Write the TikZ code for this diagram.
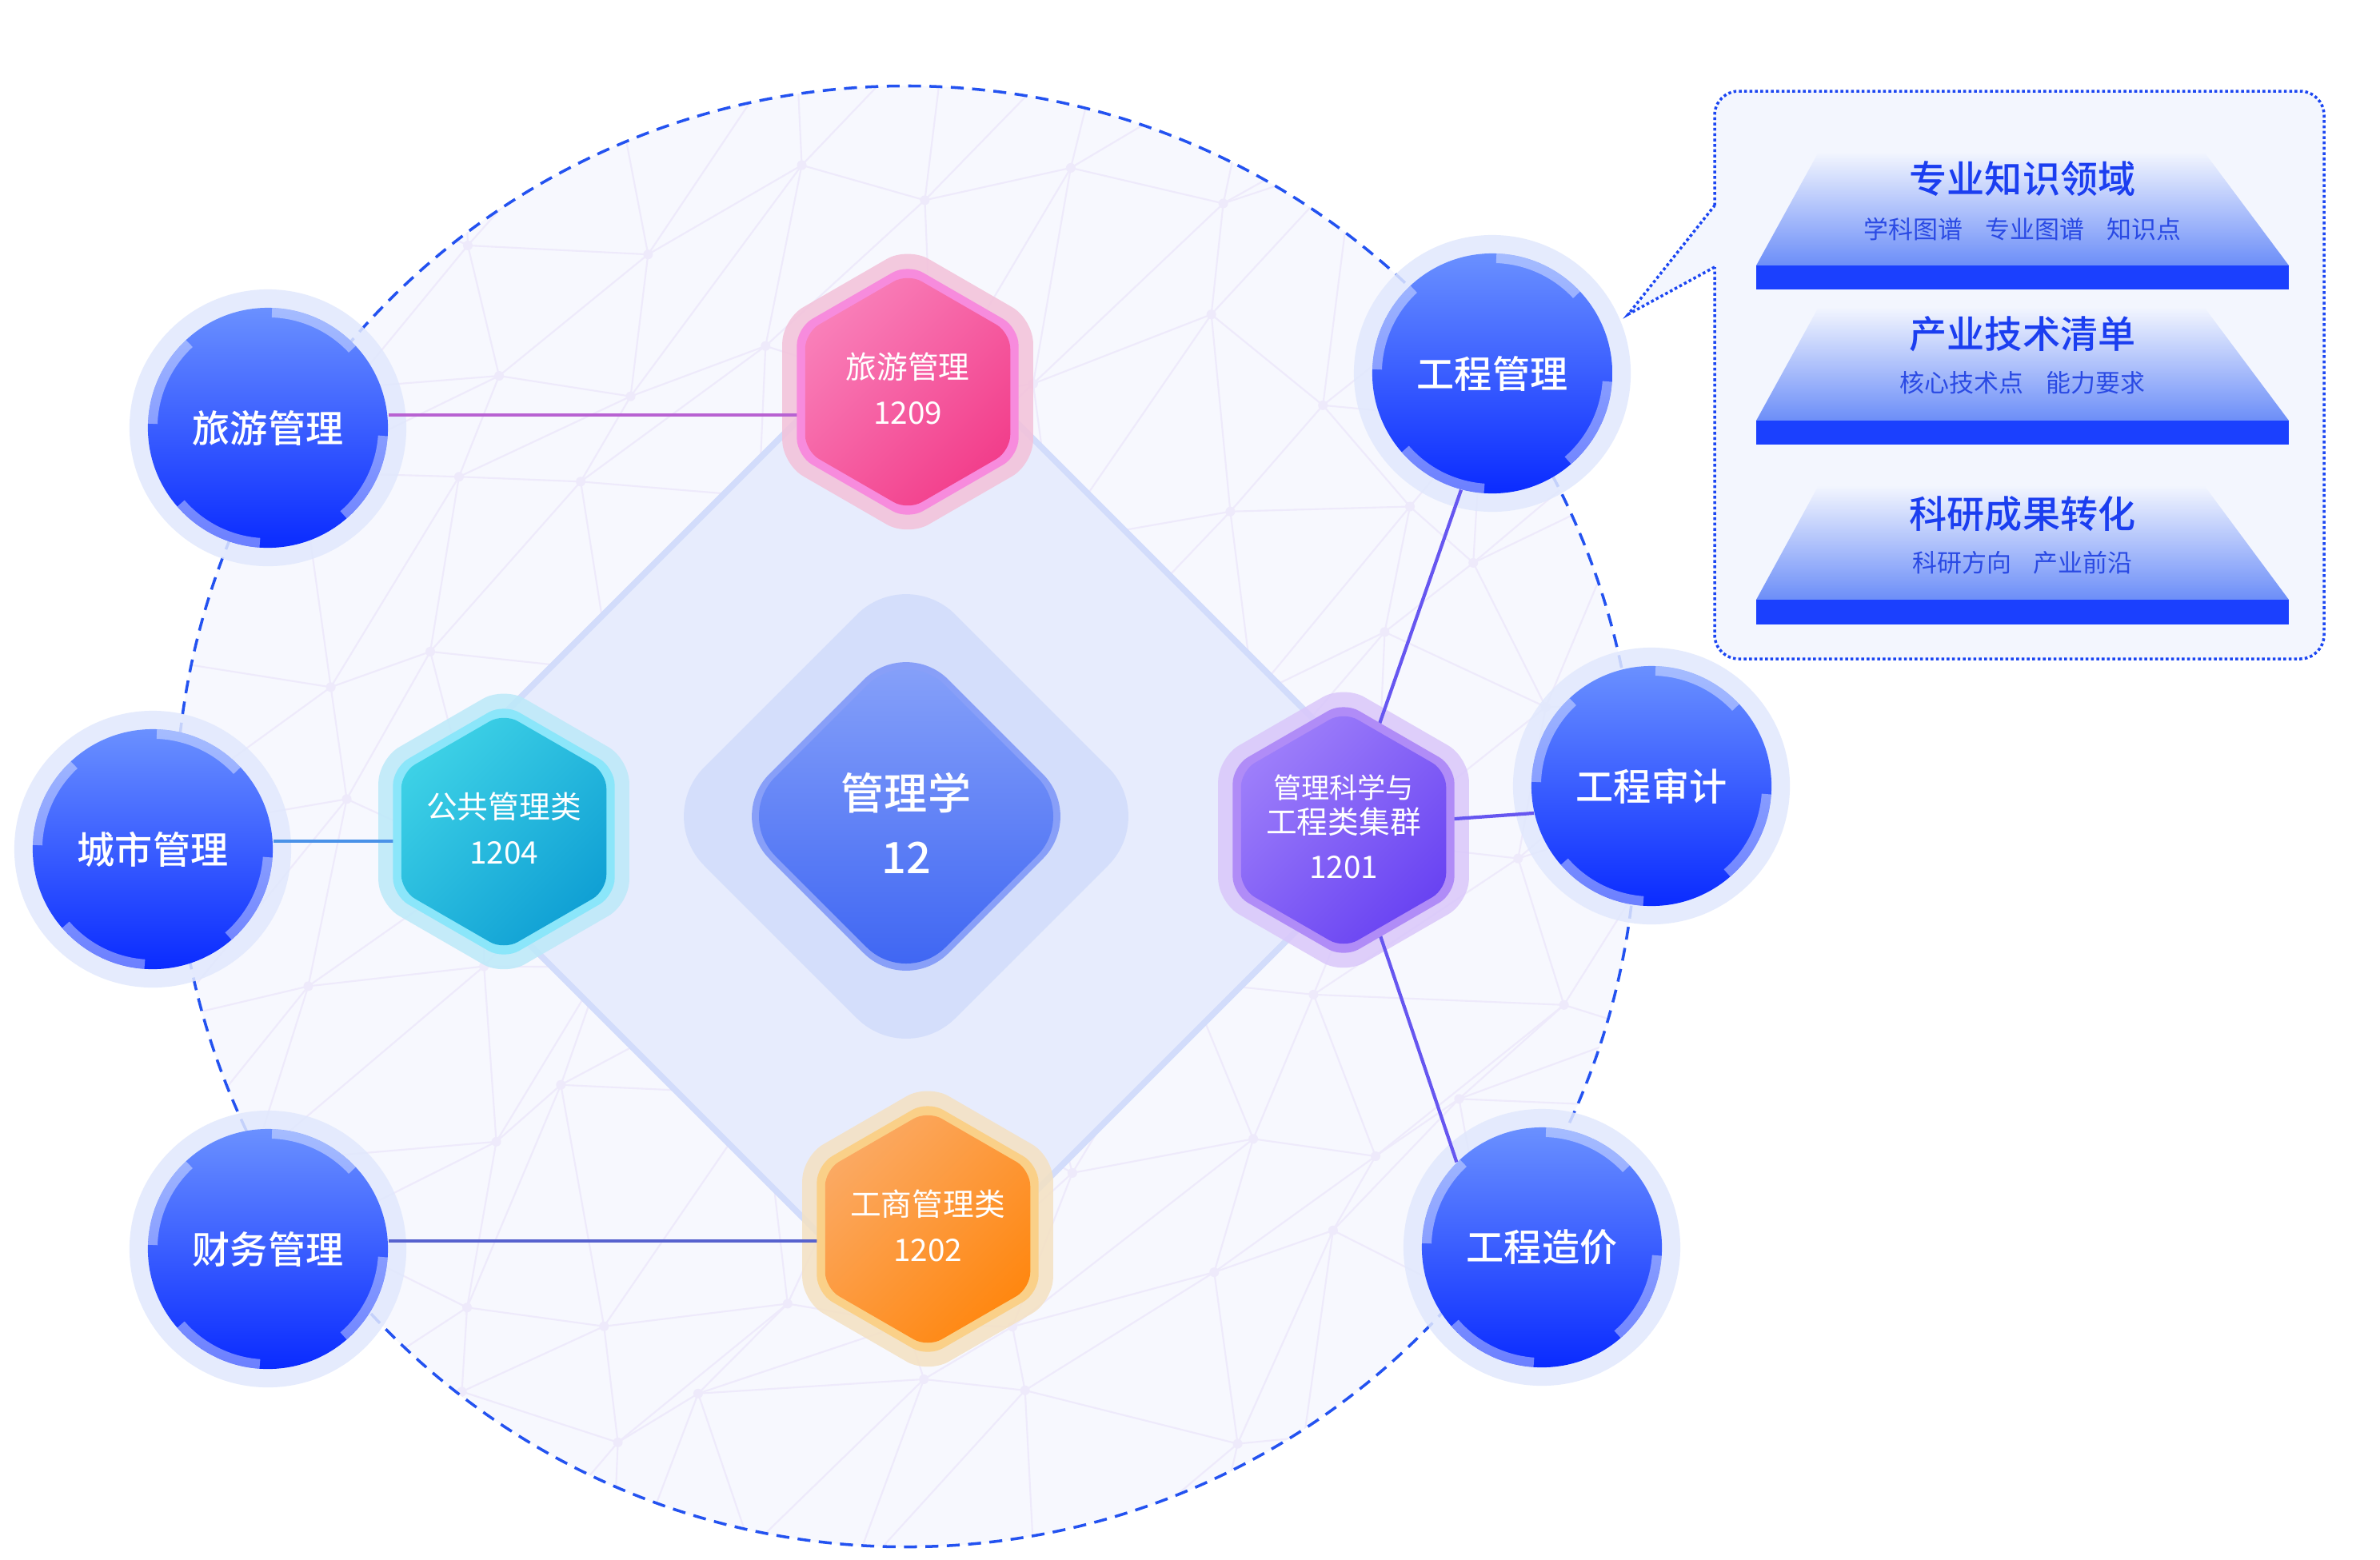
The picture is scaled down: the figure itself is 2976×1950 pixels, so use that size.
\documentclass[tikz,border=0pt]{standalone}
\usepackage{fontspec}
\setmainfont{Noto Sans CJK SC}[BoldFont={Noto Sans CJK SC Medium}]
\usetikzlibrary{calc}

% colours
\definecolor{ringbg}{HTML}{F7F8FE}
\definecolor{netline}{HTML}{EEEAFB}
\definecolor{dashblue}{HTML}{2352F0}
\definecolor{bigfill}{HTML}{E7ECFD}
\definecolor{bigedge}{HTML}{D2DCFB}
\definecolor{ballhalo}{HTML}{E1E8FD}
\definecolor{balltop}{HTML}{6A90FF}
\definecolor{ballmid}{HTML}{3A62FF}
\definecolor{ballbot}{HTML}{0A2BFF}
\definecolor{corehalo}{HTML}{D3DDFB}
\definecolor{corering}{HTML}{889FF8}
\definecolor{coretop}{HTML}{8AA4FA}
\definecolor{corebot}{HTML}{3A62F2}
\definecolor{pinkhalo}{HTML}{F3C1D9}
\definecolor{pinkring}{HTML}{F78BDD}
\definecolor{pinktop}{HTML}{F97FB9}
\definecolor{pinkbot}{HTML}{F23E8B}
\definecolor{cyanhalo}{HTML}{BCE9F9}
\definecolor{cyanring}{HTML}{8BE6FA}
\definecolor{cyantop}{HTML}{3DD1E6}
\definecolor{cyanbot}{HTML}{10A0D4}
\definecolor{purplehalo}{HTML}{DAC7FA}
\definecolor{purplering}{HTML}{B08CF7}
\definecolor{purpletop}{HTML}{9D7EFA}
\definecolor{purplebot}{HTML}{6943F2}
\definecolor{orangehalo}{HTML}{F4E1C2}
\definecolor{orangering}{HTML}{FAD088}
\definecolor{orangetop}{HTML}{FBA962}
\definecolor{orangebot}{HTML}{FF8710}
\definecolor{pinklink}{HTML}{B862D2}
\definecolor{cyanlink}{HTML}{4A92E8}
\definecolor{orangelink}{HTML}{5762CE}
\definecolor{purplelink}{HTML}{6656F0}
\definecolor{panelbg}{HTML}{F3F6FE}
\definecolor{panelblue}{HTML}{1B46F2}
\definecolor{trapmid}{HTML}{C7D3FC}
\definecolor{trapblue}{HTML}{6C8EF8}
\definecolor{barblue}{HTML}{1B40FE}
\definecolor{titleblue}{HTML}{1B3EF0}
\definecolor{subblue}{HTML}{2A4AE4}

\pgfdeclarelayer{back}
\pgfdeclarelayer{links}
\pgfsetlayers{back,links,main}

\tikzset{
  ball/.style={circle, minimum size=3cm, inner sep=0pt, top color=balltop, middle color=ballmid, bottom color=ballbot, text=white, font=\bfseries\fontsize{13.4}{16}\selectfont},
  ballarc/.style={white, opacity=0.4, line width=3.4pt},
  link/.style={line width=1.2pt},
  hexlabel/.style={align=center, text=white, inner sep=0pt, font=\fontsize{11}{16}\selectfont},
  corelabel/.style={align=center, text=white, inner sep=0pt, font=\bfseries\fontsize{15.4}{22.7}\selectfont},
  tiertitle/.style={text=titleblue, inner sep=0pt, font=\bfseries\fontsize{13.4}{16}\selectfont},
  tiersub/.style={text=subblue, inner sep=0pt, font=\fontsize{8.8}{11}\selectfont},
  panelline/.style={draw=panelblue, line width=1pt, dash pattern=on 1pt off 0.9pt},
  net/.style={netline, line width=0.6pt}
}

\begin{document}
\begin{tikzpicture}[x=0.01cm, y=-0.01cm]
    \useasboundingbox (0,0) rectangle (2976,1950);

    \def\cx{1133}
    \def\cy{1021}
    \def\ringR{9.13cm}

    % subject balls
    \node[ball] (lygl) at (335,535) {旅游管理};
    \node[ball] (csgl) at (191,1062) {城市管理};
    \node[ball] (cwgl) at (335,1562) {财务管理};
    \node[ball] (gcgl) at (1866,467) {工程管理};
    \node[ball] (gcsj) at (2065,983) {工程审计};
    \node[ball] (gczj) at (1928,1560) {工程造价};

    %light arcs on the balls
    \foreach \b in {lygl,csgl,cwgl,gcgl,gcsj,gczj}
        \foreach \a in {43,133,221,311}
            \draw[ballarc] (\b.center) ++(\a:1.44cm) arc[start angle=\a, end angle=\a+45, radius=1.44cm];

    % hexagon badges
    \foreach \name/\hx/\hy/\col/\txt in {h1209/1135/490/pink/{旅游管理\\1209},h1204/630/1040/cyan/{公共管理类\\1204},h1201/1680/1038/purple/{\fontsize{10}{12.5}\selectfont 管理科学与\\[-3.6pt]工程类集群\\1201},h1202/1160/1537/orange/{工商管理类\\1202}}
    {
        \begin{scope}[shift={(\hx,\hy)}]
            \fill[fill=\col ring, rounded corners=0.22cm] (90:1.6cm) -- (150:1.6cm) -- (210:1.6cm) -- (270:1.6cm) -- (330:1.6cm) -- (30:1.6cm) -- cycle;
            \shade[top color=\col top, bottom color=\col bot, shading angle=45, rounded corners=0.2cm] (90:1.48cm) -- (150:1.48cm) -- (210:1.48cm) -- (270:1.48cm) -- (330:1.48cm) -- (30:1.48cm) -- cycle;
        \end{scope}
        \node[hexlabel] (\name) at (\hx,\hy-4) {\txt};
    }

    % centre diamond
    \fill[corehalo, opacity=0.9, rounded corners=0.87cm] (\cx-314,\cy) -- (\cx,\cy-314) -- (\cx+314,\cy) -- (\cx,\cy+314) -- cycle;
    \fill[corering, rounded corners=0.75cm] (\cx-224,\cy) -- (\cx,\cy-224) -- (\cx+224,\cy) -- (\cx,\cy+224) -- cycle;
    \shade[top color=coretop, bottom color=corebot, rounded corners=0.7cm] (\cx-213,\cy) -- (\cx,\cy-213) -- (\cx+213,\cy) -- (\cx,\cy+213) -- cycle;
    \node[corelabel] (core) at (\cx,\cy+8) {管理学\\12};

    % callout panel
    \fill[panelbg, rounded corners=0.3cm] (2144,114) rectangle (2906,824);
    \fill[panelbg] (2144,257) -- (2036,393) -- (2144,334) -- cycle;
    \draw[panelline, rounded corners=0.3cm] (2144,257) -- (2144,114) -- (2906,114) -- (2906,824) -- (2144,824) -- (2144,334);
    \draw[panelline] (2144,334) -- (2036,393) -- (2144,257);

    %tiers
    \foreach \k/\ytop/\ybar/\ybot/\ytit/\ysub/\tit/\sub in {1/190/332/362/224/287/专业知识领域/{学科图谱\hspace{0.9em}专业图谱\hspace{0.9em}知识点},2/384/526/556/418/479/产业技术清单/{核心技术点\hspace{0.9em}能力要求},3/607/750/781/643/704/科研成果转化/{科研方向\hspace{0.9em}产业前沿}}
    {
        \shade[top color=panelbg, middle color=trapmid, bottom color=trapblue] (2274,\ytop) -- (2756,\ytop) -- (2862,\ybar) -- (2196,\ybar) -- cycle;
        \fill[barblue] (2196,\ybar) rectangle (2862,\ybot);
        \node[tiertitle] (title\k) at (2529,\ytit) {\tit};
        \node[tiersub] (sub\k) at (2529,\ysub) {\sub};
    }

    \begin{pgfonlayer}{back}
        \fill[white] (0,0) rectangle (2976,1950);
        \fill[ringbg] (\cx,\cy) circle (\ringR);

        % faint network
        \begin{scope}
            \clip (\cx,\cy) circle (\ringR);
            \pgfmathsetseed{11}
            \foreach \i in {0,...,10}
                \foreach \j in {0,...,10}
                {
                    \pgfmathsetmacro\px{180+190*\i+70*rand}
                    \pgfmathsetmacro\py{80+190*\j+70*rand}
                    \coordinate (n-\i-\j) at (\px,\py);
                }
            \foreach \i in {0,...,9}
                \foreach \j in {0,...,9}
                {
                    \pgfmathtruncatemacro\ni{\i+1}
                    \pgfmathtruncatemacro\nj{\j+1}
                    \draw[net] (n-\i-\j) -- (n-\ni-\j) -- (n-\i-\nj) -- cycle;
                    \fill[netline] (n-\i-\j) circle (0.06cm);
                }
        \end{scope}

        % dashed ring
        \draw[dashblue, line width=1pt, dash pattern=on 4.6pt off 3pt] (\cx,\cy) circle (\ringR);

        % big diamond
        \def\bigD{631}
        \filldraw[fill=bigfill, draw=bigedge, line width=2.2pt, rounded corners=0.3cm] (\cx-\bigD,\cy) -- (\cx,\cy-\bigD) -- (\cx+\bigD,\cy) -- (\cx,\cy+\bigD) -- cycle;

        % halos
        \foreach \b in {lygl,csgl,cwgl,gcgl,gcsj,gczj}
            \fill[ballhalo, opacity=0.85] (\b) circle (1.73cm);
        \foreach \name/\col in {h1209/pink,h1204/cyan,h1201/purple,h1202/orange}
        {
            \begin{scope}[shift={(\name)}, yshift=-1.1pt]
                \fill[fill=\col halo, opacity=0.85, rounded corners=0.3cm] (90:1.81cm) -- (150:1.81cm) -- (210:1.81cm) -- (270:1.81cm) -- (330:1.81cm) -- (30:1.81cm) -- cycle;
            \end{scope}
        }
    \end{pgfonlayer}

    % links
    \begin{pgfonlayer}{links}
        \coordinate (a1) at ($(lygl.east)+(0,-16)$);
        \coordinate (a2) at ($(csgl.east)+(0,-10)$);
        \coordinate (a3) at ($(cwgl.east)+(0,-10)$);
        \draw[link, pinklink] (a1) -- (a1 -| h1209);
        \draw[link, cyanlink] (a2) -- (a2 -| h1204);
        \draw[link, orangelink] (a3) -- (a3 -| h1202);
        \draw[link, purplelink] (h1201.center) -- (gcgl.255);
        \draw[link, purplelink] (h1201.center) -- (gcsj.193);
        \draw[link, purplelink] (h1201.center) -- (gczj.135);
    \end{pgfonlayer}

\end{tikzpicture}
\end{document}
